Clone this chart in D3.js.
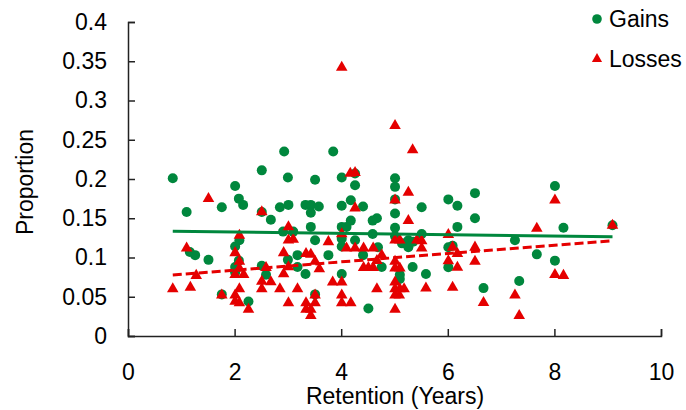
<!DOCTYPE html>
<html lang="en">
<head>
  <meta charset="UTF-8">
  <title>Retention scatter</title>
  <style>
    body { margin: 0; background: #fff; }
    svg text { font-family: "Liberation Sans", Arial, Helvetica, sans-serif; fill: #000; }
  </style>
</head>
<body>
  <svg width="686" height="410"></svg>

  <script src="https://d3js.org/d3.v7.min.js"></script>
  <script>
  // data: [retention (years), proportion]
  var gains = [
    [0.84,0.201],[1.10,0.158],[1.16,0.107],[1.26,0.103],[1.51,0.097],[1.76,0.164],[1.76,0.053],
    [2.01,0.191],[2.08,0.175],[2.16,0.167],[2.01,0.114],[2.09,0.122],[2.08,0.096],[2.01,0.088],
    [2.01,0.081],[2.26,0.044],[2.51,0.211],[2.51,0.158],[2.68,0.148],[2.51,0.0895],[2.59,0.078],
    [2.93,0.235],[3.00,0.202],[2.85,0.164],[3.01,0.167],[2.91,0.133],[3.10,0.133],[3.00,0.097],
    [3.18,0.103],[3.18,0.088],[3.33,0.079],[3.33,0.167],[3.43,0.167],[3.43,0.157],[3.58,0.165],
    [3.51,0.199],[3.43,0.139],[3.51,0.122],[3.51,0.053],[3.85,0.235],[4.01,0.202],[4.26,0.207],
    [4.26,0.192],[4.01,0.166],[4.18,0.173],[4.41,0.165],[4.01,0.139],[4.10,0.139],[4.18,0.147],
    [4.59,0.147],[4.67,0.150],[4.59,0.130],[4.01,0.124],[4.01,0.114],[4.26,0.122],[4.69,0.113],
    [4.41,0.103],[3.76,0.103],[4.01,0.079],[4.76,0.088],[4.51,0.035],[5.01,0.201],[5.01,0.190],
    [5.01,0.174],[5.01,0.156],[5.01,0.138],[5.01,0.127],[5.14,0.118],[5.26,0.122],[5.26,0.113],
    [5.35,0.120],[5.34,0.088],[5.10,0.078],[5.10,0.0725],[5.51,0.164],[5.51,0.130],[5.59,0.079],
    [6.01,0.174],[6.18,0.166],[6.51,0.182],[6.51,0.150],[6.18,0.139],[6.01,0.113],[6.09,0.115],
    [6.01,0.0875],[6.67,0.061],[7.26,0.122],[7.34,0.070],[7.67,0.104],[8.01,0.191],[8.17,0.138],
    [8.01,0.096],[9.09,0.141]
  ];

  var losses = [
    [4.01,0.342],[5.01,0.268],[5.34,0.237],[4.17,0.207],[4.26,0.208],[1.51,0.175],[5.26,0.183],
    [5.01,0.173],[4.26,0.163],[2.51,0.158],[5.26,0.147],[3.01,0.139],[7.67,0.137],[8.01,0.173],
    [9.09,0.141],[4.01,0.130],[6.01,0.129],[2.09,0.128],[3.01,0.122],[3.10,0.123],[3.76,0.120],
    [5.01,0.122],[5.10,0.122],[5.42,0.122],[5.51,0.121],[5.51,0.112],[1.10,0.112],[4.10,0.112],
    [4.26,0.112],[4.42,0.112],[4.60,0.112],[6.09,0.113],[6.51,0.113],[2.01,0.106],[2.92,0.106],
    [3.34,0.105],[3.43,0.104],[4.76,0.103],[6.18,0.105],[3.51,0.095],[2.09,0.095],[4.67,0.096],
    [5.01,0.095],[6.01,0.0955],[6.51,0.095],[2.09,0.086],[2.59,0.087],[3.01,0.088],[3.59,0.0855],
    [4.42,0.087],[4.51,0.087],[4.60,0.087],[5.01,0.0865],[5.10,0.0865],[6.18,0.0875],[1.28,0.077],
    [2.01,0.078],[2.17,0.078],[2.92,0.079],[2.51,0.0695],[2.68,0.069],[3.84,0.0685],[4.01,0.0685],
    [5.01,0.0685],[0.84,0.060],[1.17,0.062],[2.09,0.060],[2.51,0.060],[2.85,0.060],[3.18,0.060],
    [4.67,0.060],[5.01,0.060],[5.10,0.060],[5.18,0.060],[5.59,0.061],[6.09,0.062],[1.76,0.052],
    [2.01,0.052],[3.51,0.052],[4.01,0.052],[5.01,0.052],[5.09,0.052],[7.26,0.052],[2.01,0.044],
    [2.09,0.042],[3.01,0.042],[3.34,0.042],[3.51,0.042],[4.01,0.042],[4.18,0.042],[6.67,0.0425],
    [2.26,0.034],[3.34,0.034],[3.43,0.034],[5.01,0.034],[3.43,0.026],[7.34,0.026],[8.01,0.078],
    [8.17,0.077]
  ];

  // linear trend lines, end points
  var gainsTrend = [[0.84,0.1334],[9.09,0.1265]];
  var lossesTrend = [[0.84,0.0777],[9.09,0.1214]];

  var xTicks = [0, 2, 4, 6, 8, 10];
  var yTicks = [0, 0.05, 0.1, 0.15, 0.2, 0.25, 0.3, 0.35, 0.4];

  var green = "#00873d";
  var red = "#e50000";

  var svg = d3.select("svg");
  var x = d3.scaleLinear().domain([0, 10]).range([128, 661]);
  var y = d3.scaleLinear().domain([0, 0.4]).range([336, 22]);

  // axes
  var xAxis = svg.append("g")
    .attr("transform", "translate(0," + y(0) + ")")
    .call(d3.axisBottom(x).tickValues(xTicks).tickSize(-7).tickPadding(28));
  var yAxis = svg.append("g")
    .attr("transform", "translate(" + x(0) + ",0)")
    .call(d3.axisLeft(y).tickValues(yTicks).tickSize(-7).tickPadding(21)
      .tickFormat(function(d) { return String(+d.toFixed(2)); }));

  [xAxis, yAxis].forEach(function(a) {
    a.select(".domain").attr("stroke", "#222").attr("stroke-width", 1.5);
    a.selectAll(".tick line").attr("stroke", "#222").attr("stroke-width", 1.5);
    a.selectAll("text").attr("font-size", 23).attr("fill", "#000")
      .attr("font-family", "Liberation Sans, Arial, sans-serif");
  });

  // titles
  svg.append("text")
    .attr("x", 395).attr("y", 404)
    .attr("text-anchor", "middle")
    .attr("font-size", 23)
    .text("Retention (Years)");

  svg.append("text")
    .attr("transform", "translate(33,182) rotate(-90)")
    .attr("text-anchor", "middle")
    .attr("font-size", 23)
    .text("Proportion");

  // points
  svg.append("g").selectAll("circle")
    .data(gains)
    .enter().append("circle")
    .attr("cx", function(d) { return x(d[0]); })
    .attr("cy", function(d) { return y(d[1]); })
    .attr("r", 5)
    .attr("fill", green);

  var tri = d3.symbol().type(d3.symbolTriangle).size(58);
  svg.append("g").selectAll("path")
    .data(losses)
    .enter().append("path")
    .attr("d", tri)
    .attr("transform", function(d) { return "translate(" + x(d[0]) + "," + y(d[1]) + ")"; })
    .attr("fill", red);

  // trend lines
  var line = d3.line()
    .x(function(d) { return x(d[0]); })
    .y(function(d) { return y(d[1]); });

  svg.append("path")
    .datum(gainsTrend)
    .attr("d", line)
    .attr("fill", "none")
    .attr("stroke", green)
    .attr("stroke-width", 3);

  svg.append("path")
    .datum(lossesTrend)
    .attr("d", line)
    .attr("fill", "none")
    .attr("stroke", red)
    .attr("stroke-width", 3)
    .attr("stroke-dasharray", "9,4");

  // legend
  var legend = svg.append("g");
  legend.append("circle")
    .attr("cx", 597).attr("cy", 19).attr("r", 4.8)
    .attr("fill", green);
  legend.append("text")
    .attr("x", 609).attr("y", 27)
    .attr("font-size", 23)
    .text("Gains");
  legend.append("path")
    .attr("d", d3.symbol().type(d3.symbolTriangle).size(45))
    .attr("transform", "translate(597,59)")
    .attr("fill", red);
  legend.append("text")
    .attr("x", 609).attr("y", 67)
    .attr("font-size", 23)
    .text("Losses");
  </script>
</body>
</html>
